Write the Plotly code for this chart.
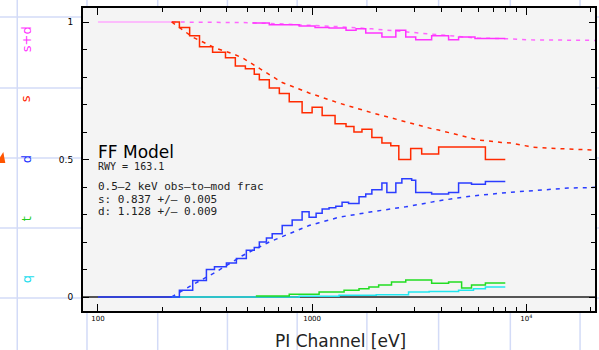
import plotly.graph_objects as go

# ---------------- data ----------------
# model curves: energy [eV] and fraction
model_E = [100, 221, 277, 354, 425, 472, 631, 725, 968, 1078, 1336, 1901, 2625, 2737,
           3615, 3898, 5550, 5980, 7650, 8510, 10210, 10550, 15670, 20040, 21400]
model_s = [1.0, 1.0, 0.945, 0.905, 0.885, 0.87, 0.807, 0.78, 0.742, 0.73, 0.705, 0.67, 0.64, 0.636,
           0.612, 0.607, 0.576, 0.571, 0.562, 0.56, 0.548, 0.545, 0.538, 0.535, 0.534]
model_d = [0.0, 0.0, 0.045, 0.09, 0.13, 0.15, 0.2, 0.22, 0.26, 0.27, 0.29, 0.31, 0.325, 0.328,
           0.345, 0.35, 0.367, 0.37, 0.378, 0.381, 0.385, 0.386, 0.396, 0.398, 0.40]
model_sd = [1.0, 1.0, 1.0, 1.0, 0.999, 0.998, 0.995, 0.993, 0.99, 0.988, 0.983, 0.975, 0.965, 0.963,
            0.955, 0.952, 0.943, 0.941, 0.94, 0.939, 0.935, 0.935, 0.934, 0.933, 0.933]

# observed pattern fractions (step histograms: bin left edges + final edge)
s_E = [221, 240, 268, 298, 343, 394, 438, 488, 537, 567, 631, 703, 782, 898, 1000, 1114, 1280,
       1440, 1568, 1709, 1901, 2118, 2330, 2540, 2886, 3248, 3898, 4830, 6444, 7980]
s_frac = [1.0, 0.98, 0.95, 0.91, 0.89, 0.87, 0.84, 0.83, 0.81, 0.79, 0.76, 0.74, 0.71, 0.67, 0.69,
          0.66, 0.63, 0.62, 0.60, 0.61, 0.58, 0.56, 0.55, 0.50, 0.54, 0.52, 0.545, 0.545, 0.50]

d_E = [216, 240, 277, 321, 350, 398, 443, 493, 537, 567, 612, 651, 725, 807, 898, 968, 1044, 1114,
       1200, 1290, 1380, 1480, 1656, 1780, 1901, 2118, 2234, 2460, 2625, 2917, 3046, 3615, 4338,
       4830, 5550, 6444, 7980]
d_frac = [0.0, 0.025, 0.06, 0.10, 0.11, 0.124, 0.14, 0.17, 0.18, 0.20, 0.215, 0.23, 0.26, 0.28,
          0.31, 0.29, 0.305, 0.32, 0.325, 0.33, 0.345, 0.34, 0.365, 0.375, 0.39, 0.415, 0.38, 0.415,
          0.43, 0.425, 0.38, 0.375, 0.38, 0.415, 0.41, 0.42]

sd_E = [526, 631, 725, 870, 1032, 1200, 1440, 1604, 1780, 2118, 2460, 2737, 3046, 3615, 4338,
        4830, 5760, 7170, 7980]
sd_frac = [0.996, 0.99, 0.99, 0.985, 0.98, 0.978, 0.97, 0.975, 0.96, 0.945, 0.97, 0.945, 0.935,
           0.95, 0.935, 0.945, 0.94, 0.94]

t_E = [546, 782, 1078, 1410, 1656, 1842, 2045, 2348, 2737, 3150, 3615, 4338, 4990, 5550, 6444, 7980]
t_frac = [0.004, 0.01, 0.018, 0.025, 0.03, 0.036, 0.044, 0.055, 0.062, 0.062, 0.05, 0.055, 0.033,
          0.044, 0.051]

q_E = [221, 870, 1336, 1993, 2820, 3520, 4830, 5670, 6444, 7980]
q_frac = [0.0, 0.003, 0.006, 0.008, 0.018, 0.02, 0.025, 0.03, 0.036]

x_tickvals = [100, 1000, 10000]
x_ticktext = ["100", "1000", "10<sup>4</sup>"]
x_minor = [200, 300, 400, 500, 600, 700, 800, 900, 2000, 3000, 4000, 5000, 6000, 7000, 8000,
           9000, 20000]
y_tickvals = [0, 0.5, 1]
y_ticktext = ["0", "0.5", "1"]

side_labels = ["s+d", "s", "d", "t", "q"]
side_colors = ["#ff33ff", "#ff2200", "#2233ff", "#22cc22", "#22ddee"]

info_title = "FF Model"
info_lines = ["RWY = 163.1", "0.5\u20132 keV obs\u2013to\u2013mod frac",
              "s: 0.837 +/\u2013 0.005", "d: 1.128 +/\u2013 0.009"]

# ---------------- layout helpers ----------------
W, H = 599, 350
L, R, T, B = 83, 597, 8, 311


def pxx(x):
    return (x - L) / (R - L)


def pxy(y):
    return (B - y) / (B - T)


MAG, RED, BLUE, GREEN, CYAN = "#ff33ff", "#ff2a00", "#2a3cff", "#22dd22", "#22e6f0"

fig = go.Figure()


def step(E, f, color, width=1.5):
    fig.add_trace(go.Scatter(x=E, y=list(f) + [f[-1]], mode="lines", line_shape="hv",
                             line=dict(color=color, width=width), hoverinfo="skip",
                             showlegend=False))


def model(E, f, color):
    fig.add_trace(go.Scatter(x=E, y=f, mode="lines", line=dict(color=color, width=1.5, dash="4px,5px"),
                             hoverinfo="skip", showlegend=False))


# flat low-energy parts of models (solid)
fig.add_trace(go.Scatter(x=model_E[:2], y=model_sd[:2], mode="lines",
                         line=dict(color="#ffaaff", width=1.6), showlegend=False, hoverinfo="skip"))
fig.add_trace(go.Scatter(x=model_E[:2], y=model_d[:2], mode="lines",
                         line=dict(color=BLUE, width=1.6), showlegend=False, hoverinfo="skip"))

model(model_E[1:], model_sd[1:], "#ff66ff")
model(model_E[1:], model_s[1:], RED)
model(model_E[1:], model_d[1:], BLUE)

step(q_E, q_frac, CYAN)
step(t_E, t_frac, GREEN)
step(d_E, d_frac, BLUE)
step(s_E, s_frac, RED)
step(sd_E, sd_frac, MAG)

shapes = []
grid_col = "#d3dbf7"
for gx in [17, 87, 158, 228, 298, 368, 440, 512, 582]:
    shapes.append(dict(type="line", xref="paper", yref="paper", x0=pxx(gx), x1=pxx(gx),
                       y0=pxy(H + 2), y1=pxy(-2), line=dict(color=grid_col, width=1.5), layer="below"))
for gy in [17, 88, 158, 228, 298]:
    shapes.append(dict(type="line", xref="paper", yref="paper", x0=pxx(-2), x1=pxx(W + 2),
                       y0=pxy(gy), y1=pxy(gy), line=dict(color=grid_col, width=1.5), layer="below"))
shapes.append(dict(type="rect", xref="paper", yref="paper", x0=0, x1=1, y0=0, y1=1,
                   fillcolor="#f4f4f4", line=dict(width=0), layer="below"))
# orange marker at the left edge
shapes.append(dict(type="path", xref="paper", yref="paper",
                   path=f"M {pxx(-4)} {pxy(163)} L {pxx(5)} {pxy(163)} L {pxx(3)} {pxy(152)} Z",
                   fillcolor="#ff5500", line=dict(width=0), layer="above"))

annotations = []
side_y = [39, 99, 159, 219, 279]
for txt, col, yy in zip(side_labels, side_colors, side_y):
    annotations.append(dict(text=txt, xref="paper", yref="paper", x=pxx(26), y=pxy(yy),
                            showarrow=False, textangle=-90, xanchor="center", yanchor="middle",
                            font=dict(family="DejaVu Sans", size=13, color=col)))

annotations.append(dict(text=info_title, xref="paper", yref="paper", x=pxx(96), y=pxy(152),
                        xanchor="left", yanchor="middle", showarrow=False,
                        font=dict(family="DejaVu Sans", size=17, color="black")))
for txt, yy, sz in zip(info_lines, [166, 187, 199, 211], [10, 11, 11, 11]):
    annotations.append(dict(text=txt, xref="paper", yref="paper", x=pxx(96), y=pxy(yy),
                            xanchor="left", yanchor="middle", showarrow=False,
                            font=dict(family="DejaVu Sans Mono", size=sz, color="#222")))

annotations.append(dict(text="PI Channel [eV]", xref="paper", yref="paper", x=pxx(342), y=pxy(341),
                        xanchor="center", yanchor="middle", showarrow=False,
                        font=dict(family="DejaVu Sans", size=17, color="#222")))

fig.update_layout(
    width=W, height=H,
    margin=dict(l=L, r=W - R, t=T, b=H - B, pad=0),
    paper_bgcolor="white", plot_bgcolor="rgba(0,0,0,0)",
    shapes=shapes, annotations=annotations, showlegend=False,
    xaxis=dict(type="log", range=[1.9302, 4.3209], tickmode="array", tickvals=x_tickvals,
               ticktext=x_ticktext, ticks="inside", ticklen=7, tickcolor="black", tickwidth=1,
               showline=True, linecolor="black", linewidth=2, mirror="ticks", showgrid=False,
               zeroline=False, tickfont=dict(family="DejaVu Sans", size=7, color="black"),
               minor=dict(tickmode="array", tickvals=x_minor, ticks="inside", ticklen=4,
                          tickcolor="black", showgrid=False)),
    yaxis=dict(range=[-0.0509, 1.0509], tickmode="array", tickvals=y_tickvals, ticktext=y_ticktext,
               ticks="inside", ticklen=6, tickcolor="black", showline=True, linecolor="black",
               linewidth=2, mirror="ticks", showgrid=False, zeroline=True, zerolinecolor="#555",
               zerolinewidth=1.5, ticklabelstandoff=6,
               tickfont=dict(family="DejaVu Sans", size=9, color="black"),
               minor=dict(dtick=0.1, ticks="inside", ticklen=4, tickcolor="black", showgrid=False)),
)

fig.write_html("out.html")
